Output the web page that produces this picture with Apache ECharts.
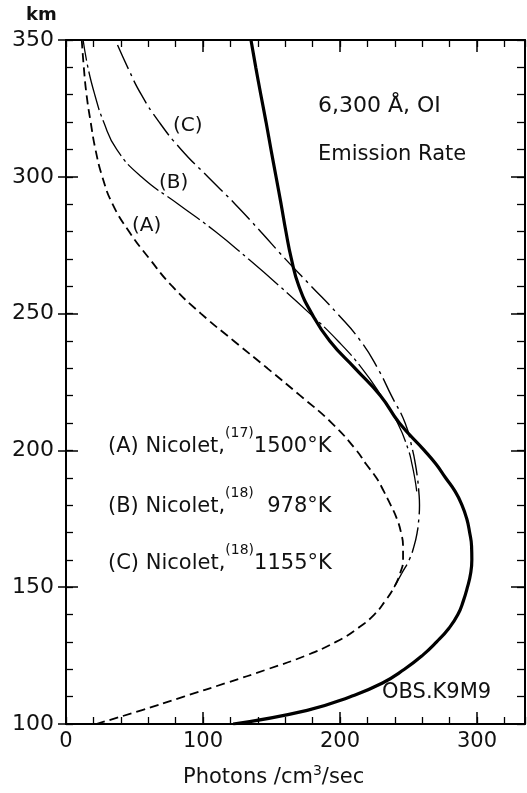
<!DOCTYPE html>
<html>
<head>
<meta charset="utf-8">
<script src="https://cdn.jsdelivr.net/npm/echarts@6/dist/echarts.min.js"></script>
<style>
html,body{margin:0;padding:0;background:#fff;}
#chart{width:527px;height:793px;}
</style>
</head>
<body>
<div id="chart"></div>
<script>
// Altitude (km) levels shared by all curves
const altitudes = [100,105,110,115,120,125,130,135,140,145,150,155,160,165,170,175,180,185,190,195,200,210,220,230,240,250,260,270,280,290,300,310,320,330,340,350];
// (A) Nicolet 1500°K  (dashed)
const curveA = [22,55,86,117,147,175,197,213,225,233,239.5,243.8,246,246,244.5,241.5,237,232,226.5,219,212,194,171,147,122.5,98.5,77.5,61,46,34,26.5,21.5,18,15,13,11.5];
// (B) Nicolet 978°K
const curveB = [null,null,null,null,null,null,null,null,null,null,null,null,null,null,null,null,null,256,254.5,252.5,250,242,230,216,198.5,178,156,133,109,82,55,37,27.5,21,16,12.5];
// (C) Nicolet 1155°K
const curveC = [null,null,null,null,null,null,null,null,null,null,239.5,245,250.5,254,256.3,257.5,258,257.5,256.5,255,253,247.5,237.5,227.5,215,198,179,160,142,123.5,103.5,84,68,55,45,36];
// OBS. K9M9 (thick solid)
const curveObs = [122,176,207.5,231,247,260,270.5,279.5,286,290,293,295.3,296.2,296,294.6,292.5,289,284,277,270,261.5,243.3,229.5,211,192.5,179.4,170,164.5,160.5,157,153.3,149.6,146,142.2,138.5,135];

const xTicks = [0,100,200,300];
const yTicks = [100,150,200,250,300,350];

const FONT = 'DejaVu Sans';
const X_MIN = 0, X_MAX = 335, Y_MIN = 100, Y_MAX = 350;

function pairs(vals){
  const out = [];
  vals.forEach((v,i)=>{ if(v!==null) out.push([v, altitudes[i]]); });
  return out;
}

const chart = echarts.init(document.getElementById('chart'), null, {renderer:'canvas'});

const lineC = {color:'#000', width:2};
function xAx(extra){ return Object.assign({type:'value', gridIndex:0, min:X_MIN, max:X_MAX, splitLine:{show:false}, axisLabel:{show:false}, axisLine:{show:false, onZero:false}}, extra); }
function yAx(extra){ return Object.assign({type:'value', gridIndex:0, min:Y_MIN, max:Y_MAX, splitLine:{show:false}, axisLabel:{show:false}, axisLine:{show:false, onZero:false}}, extra); }

const supRich = {
  n:{fontFamily:FONT, fontSize:21, verticalAlign:'bottom', lineHeight:25, color:'#111'},
  s:{fontFamily:FONT, fontSize:14, verticalAlign:'bottom', lineHeight:16, padding:[0,0,17,0], color:'#111'}
};

const option = {
  animation:false,
  backgroundColor:'#fff',
  grid:{left:66, right:2, top:40, bottom:69, containLabel:false},
  xAxis:[
    xAx({position:'bottom', interval:100, axisLine:{show:true, onZero:false, lineStyle:lineC},
      axisTick:{show:true, inside:true, length:12, lineStyle:{color:'#000', width:1.5}},
      axisLabel:{show:true, margin:7, fontFamily:FONT, fontSize:21, color:'#111', showMaxLabel:false,
        formatter:(v)=> xTicks.includes(v) ? String(v) : ''}}),
    xAx({position:'bottom', interval:20, axisTick:{show:true, inside:true, length:7, lineStyle:{color:'#000', width:1.3}}}),
    xAx({position:'top', interval:100, axisLine:{show:true, onZero:false, lineStyle:lineC},
      axisTick:{show:true, inside:true, length:12, lineStyle:{color:'#000', width:1.5}}}),
    xAx({position:'top', interval:20, axisTick:{show:true, inside:true, length:7, lineStyle:{color:'#000', width:1.3}}})
  ],
  yAxis:[
    yAx({position:'left', interval:50, axisLine:{show:true, onZero:false, lineStyle:lineC},
      axisTick:{show:true, inside:false, length:8, lineStyle:{color:'#000', width:1.5}},
      axisLabel:{show:true, margin:12, fontFamily:FONT, fontSize:22, color:'#111',
        formatter:(v)=> yTicks.includes(v) ? String(v) : ''}}),
    yAx({position:'left', interval:50, axisTick:{show:true, inside:true, length:12, lineStyle:{color:'#000', width:1.5}}}),
    yAx({position:'left', interval:10, axisTick:{show:true, inside:true, length:7, lineStyle:{color:'#000', width:1.3}}}),
    yAx({position:'right', interval:50, axisLine:{show:true, onZero:false, lineStyle:lineC},
      axisTick:{show:true, inside:true, length:14, lineStyle:{color:'#000', width:1.5}}}),
    yAx({position:'right', interval:10, axisTick:{show:true, inside:true, length:8, lineStyle:{color:'#000', width:1.3}}})
  ],
  series:[
    {name:'A', type:'line', xAxisIndex:0, yAxisIndex:0, data:pairs(curveA), showSymbol:false, smooth:0.5,
      lineStyle:{color:'#000', width:1.8, type:[9,5]}},
    {name:'B', type:'line', xAxisIndex:0, yAxisIndex:0, data:pairs(curveB), showSymbol:false, smooth:0.5,
      lineStyle:{color:'#000', width:1.3, type:[40,4,3,4]}},
    {name:'C', type:'line', xAxisIndex:0, yAxisIndex:0, data:pairs(curveC), showSymbol:false, smooth:0.5,
      lineStyle:{color:'#000', width:1.4, type:[26,5,3,5]}},
    {name:'OBS', type:'line', xAxisIndex:0, yAxisIndex:0, data:pairs(curveObs), showSymbol:false, smooth:0.5,
      lineStyle:{color:'#000', width:3.2}}
  ],
  graphic:[
    {type:'text', x:26, y:6, style:{text:'km', font:'bold 18px '+FONT, fill:'#111'}},
    {type:'text', x:183, y:765, style:{text:'{n|Photons /cm}{s|3}{n|/sec}', fill:'#111',
      rich:{n:{fontFamily:FONT, fontSize:21, verticalAlign:'bottom', lineHeight:23, color:'#111'},
            s:{fontFamily:FONT, fontSize:14, verticalAlign:'bottom', lineHeight:16, padding:[0,0,10,0], color:'#111'}}}},
    {type:'text', x:318, y:95, style:{text:'6,300 Å, OI', font:'22px '+FONT, fill:'#111'}},
    {type:'text', x:318, y:144, style:{text:'Emission Rate', font:'21px '+FONT, fill:'#111'}},
    {type:'text', x:173, y:116, style:{text:'(C)', font:'20px '+FONT, fill:'#111'}},
    {type:'text', x:159, y:173, style:{text:'(B)', font:'20px '+FONT, fill:'#111'}},
    {type:'text', x:132, y:216, style:{text:'(A)', font:'20px '+FONT, fill:'#111'}},
    {type:'text', x:108, y:432, style:{text:'{n|(A) Nicolet,}{s|(17)}{n|1500°K}', fill:'#111', rich:supRich}},
    {type:'text', x:108, y:492, style:{text:'{n|(B) Nicolet,}{s|(18)}{n|  978°K}', fill:'#111', rich:supRich}},
    {type:'text', x:108, y:549, style:{text:'{n|(C) Nicolet,}{s|(18)}{n|1155°K}', fill:'#111', rich:supRich}},
    {type:'text', x:382, y:682, style:{text:'OBS.K9M9', font:'21px '+FONT, fill:'#111'}}
  ]
};
chart.setOption(option);
</script>
</body>
</html>
